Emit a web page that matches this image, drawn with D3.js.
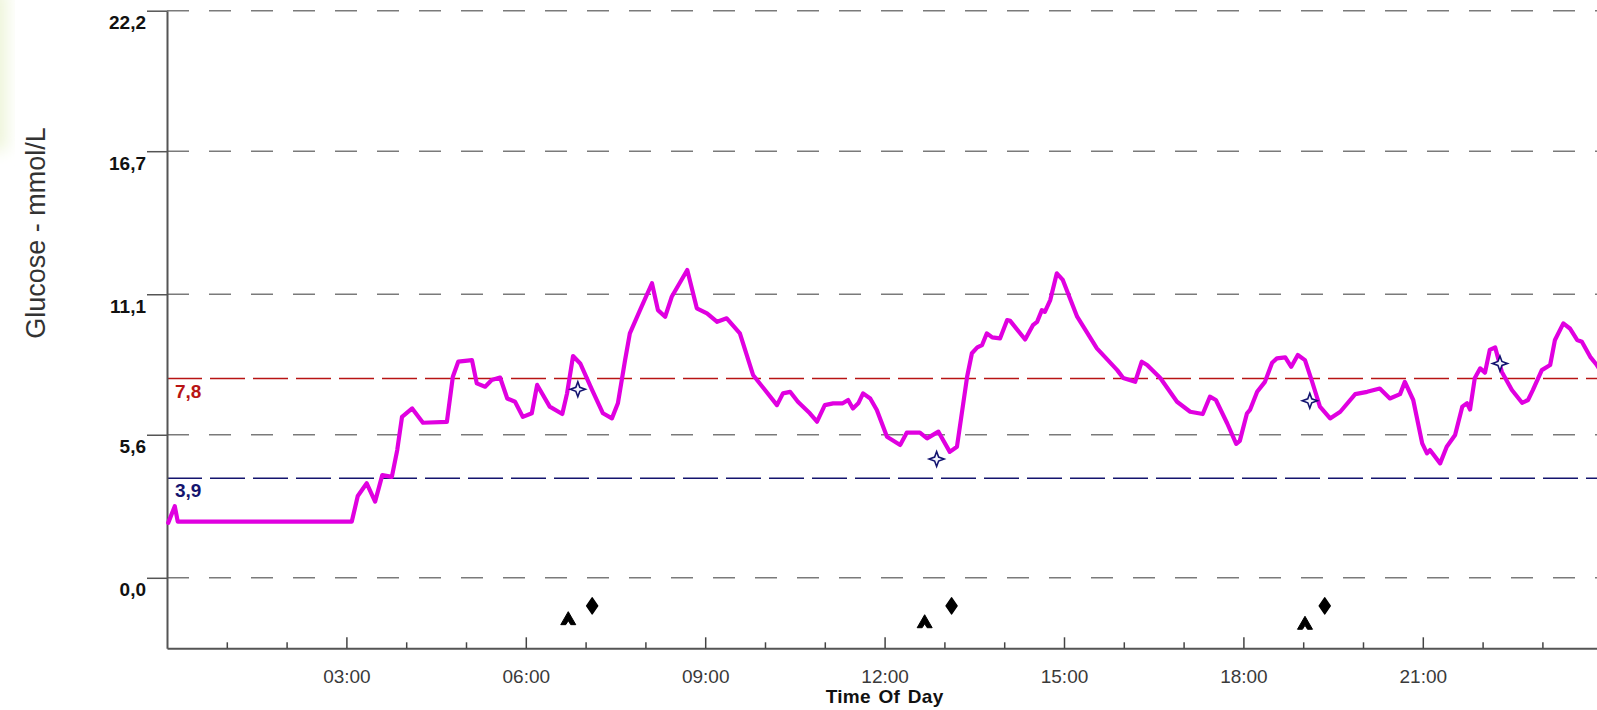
<!DOCTYPE html>
<html>
<head>
<meta charset="utf-8">
<script src="https://cdn.jsdelivr.net/npm/d3@7"></script>
<style>
  body { margin: 0; background: #fff; overflow: hidden; }
  svg { display: block; font-family: Arial, "Liberation Sans", sans-serif; }
</style>
</head>
<body>
<div id="chart"></div>
<script>
// glucose trace, hours since midnight -> mmol/L
const glucoseHours = [0.02, 0.13, 0.18, 3.09, 3.19, 3.34, 3.48, 3.60, 3.76, 3.85, 3.93, 4.10, 4.28, 4.68, 4.78, 4.87,
  5.10, 5.18, 5.32, 5.43, 5.57, 5.69, 5.82, 5.95, 6.10, 6.19, 6.40, 6.61, 6.69, 6.79, 6.91, 7.11, 7.29, 7.44,
  7.54, 7.66, 7.74, 7.91, 8.11, 8.21, 8.33, 8.44, 8.70, 8.86, 9.03, 9.20, 9.36, 9.58, 9.80, 10.00, 10.20, 10.30,
  10.42, 10.55, 10.75, 10.87, 11.00, 11.14, 11.30, 11.39, 11.47, 11.56, 11.64, 11.76, 11.87, 12.04, 12.26, 12.37,
  12.59, 12.71, 12.90, 13.09, 13.21, 13.38, 13.46, 13.55, 13.63, 13.71, 13.80, 13.93, 14.05, 14.10, 14.35, 14.48,
  14.55, 14.63, 14.68, 14.77, 14.88, 14.98, 15.22, 15.55, 15.89, 15.99, 16.19, 16.30, 16.39, 16.61, 16.89, 17.11,
  17.32, 17.44, 17.54, 17.73, 17.88, 17.94, 18.06, 18.11, 18.23, 18.36, 18.48, 18.56, 18.70, 18.80, 18.91, 19.03,
  19.15, 19.28, 19.45, 19.62, 19.87, 20.07, 20.28, 20.45, 20.62, 20.70, 20.84, 20.99, 21.07, 21.12, 21.29, 21.40,
  21.54, 21.66, 21.74, 21.79, 21.87, 21.96, 22.04, 22.12, 22.21, 22.32, 22.49, 22.66, 22.76, 22.84, 22.99, 23.13,
  23.21, 23.35, 23.46, 23.58, 23.66, 23.80, 23.91, 24.0];
const glucoseValues = [2.15, 2.8, 2.2, 2.2, 3.2, 3.7, 2.98, 4.02, 3.95, 5.0, 6.3, 6.63, 6.07, 6.1, 7.87, 8.46,
  8.52, 7.61, 7.48, 7.74, 7.84, 7.02, 6.89, 6.3, 6.44, 7.55, 6.7, 6.41, 7.22, 8.68, 8.39, 7.35, 6.44, 6.24,
  6.83, 8.52, 9.57, 10.48, 11.53, 10.48, 10.22, 11.0, 12.05, 10.55, 10.35, 10.02, 10.16, 9.57, 7.94, 7.35, 6.76, 7.22,
  7.28, 6.89, 6.44, 6.11, 6.76, 6.83, 6.83, 6.96, 6.63, 6.83, 7.22, 7.02, 6.57, 5.52, 5.2, 5.68,
  5.68, 5.46, 5.72, 4.93, 5.13, 7.87, 8.79, 9.02, 9.11, 9.57, 9.41, 9.37, 10.09, 10.06, 9.33, 9.89,
  10.02, 10.48, 10.41, 10.87, 11.92, 11.66, 10.22, 8.98, 8.13, 7.82, 7.67, 8.46, 8.33, 7.82, 6.89, 6.5,
  6.41, 7.09, 6.96, 6.04, 5.24, 5.36, 6.44, 6.57, 7.28, 7.67, 8.42, 8.59, 8.63, 8.26, 8.72, 8.52,
  7.67, 6.7, 6.24, 6.5, 7.19, 7.28, 7.41, 7.02, 7.19, 7.67, 6.96, 5.26, 4.87, 5.0, 4.48, 5.13,
  5.59, 6.7, 6.83, 6.59, 7.82, 8.2, 8.03, 8.92, 9.02, 8.07, 7.35, 6.85, 6.96, 7.35, 8.13, 8.33,
  9.31, 9.96, 9.76, 9.31, 9.24, 8.65, 8.33, 8.0];

// meter readings (star markers)
const meterHours = [6.87, 12.87, 19.11, 22.29];
const meterValues = [7.38, 4.65, 6.93, 8.39];

// event markers under the zero line
const caretHours = [6.71, 12.67, 19.03];
const caretValues = [-1.6, -1.72, -1.78];
const diamondHours = [7.11, 13.12, 19.36];
const diamondValues = [-1.1, -1.1, -1.1];

// axes
const yTicks = [0.0, 5.6, 11.1, 16.7, 22.2];
const xMajor = [3, 6, 9, 12, 15, 18, 21];
const xLabels = ["03:00", "06:00", "09:00", "12:00", "15:00", "18:00", "21:00"];
const highLimit = 7.8, lowLimit = 3.9;

const W = 1597, H = 710;
const m = {left: 167, top: 10.7, bottom: 648.3};

const svg = d3.select("#chart")
  .append("svg")
    .attr("width", W)
    .attr("height", H);

// faint green smear on the left edge of the scan
const defs = svg.append("defs");
const grad = defs.append("linearGradient")
    .attr("id", "edge").attr("x1", 0).attr("x2", 1).attr("y1", 0).attr("y2", 0);
grad.append("stop").attr("offset", "0%").attr("stop-color", "#dfecb8");
grad.append("stop").attr("offset", "100%").attr("stop-color", "#ffffff");
defs.append("filter").attr("id", "soft")
  .append("feGaussianBlur").attr("stdDeviation", 8);
svg.append("rect").attr("x", -10).attr("y", -10).attr("width", 22).attr("height", 160)
    .attr("fill", "url(#edge)").attr("filter", "url(#soft)");

const x = d3.scaleLinear().domain([0, 24]).range([m.left, m.left + 24 * 59.8]);
const y = d3.scaleLinear().domain([-2.76, 22.2]).range([m.bottom, m.top]);

const comma = d => d3.format(".1f")(d).replace(".", ",");

// dashed gridlines
svg.append("g")
  .selectAll("line")
  .data(yTicks)
  .join("line")
    .attr("x1", m.left)
    .attr("x2", x(24))
    .attr("y1", d => y(d))
    .attr("y2", d => y(d))
    .attr("stroke", "#7a7a7a")
    .attr("stroke-width", 1.5)
    .attr("stroke-dasharray", "22,20");

// target range lines
const limits = [
  {v: highLimit, color: "#b81414"},
  {v: lowLimit, color: "#14146e"}
];
svg.append("g")
  .selectAll("line")
  .data(limits)
  .join("line")
    .attr("x1", m.left)
    .attr("x2", x(24))
    .attr("y1", d => y(d.v))
    .attr("y2", d => y(d.v))
    .attr("stroke", d => d.color)
    .attr("stroke-width", 1.5)
    .attr("stroke-dasharray", "35,8");

svg.append("g")
  .selectAll("text")
  .data(limits)
  .join("text")
    .attr("x", m.left + 8)
    .attr("y", d => y(d.v) + 19)
    .attr("fill", d => d.color)
    .attr("font-size", 19)
    .attr("font-weight", "bold")
    .text(d => comma(d.v));

// Y axis
const Yaxis = svg.append("g")
    .attr("transform", `translate(${m.left},0)`)
    .call(d3.axisLeft(y).tickValues(yTicks).tickSize(20).tickSizeOuter(0).tickFormat(comma));
Yaxis.select(".domain").attr("stroke", "#555").attr("stroke-width", 2);
Yaxis.selectAll(".tick line").attr("stroke", "#555").attr("stroke-width", 1.5);
Yaxis.selectAll("text")
    .attr("x", -21)
    .attr("y", 18)
    .attr("dy", null)
    .attr("fill", "#111")
    .attr("font-size", 19)
    .attr("font-weight", "bold")
    .attr("font-family", "Arial, 'Liberation Sans', sans-serif");

// X axis: minor hour ticks, then labelled 3-hour ticks
const minor = d3.range(1, 24).filter(h => h % 3 !== 0);
const Xminor = svg.append("g")
    .attr("transform", `translate(0,${m.bottom})`)
    .call(d3.axisBottom(x).tickValues(minor).tickSize(-6).tickSizeOuter(0).tickFormat(""));
Xminor.select(".domain").attr("stroke", "#555").attr("stroke-width", 2);
Xminor.selectAll(".tick line").attr("stroke", "#444").attr("stroke-width", 1.5);

const Xaxis = svg.append("g")
    .attr("transform", `translate(0,${m.bottom})`)
    .call(d3.axisBottom(x).tickValues(xMajor).tickSize(-11).tickSizeOuter(0).tickPadding(21)
      .tickFormat((d, i) => xLabels[i]));
Xaxis.select(".domain").remove();
Xaxis.selectAll(".tick line").attr("stroke", "#444").attr("stroke-width", 1.5);
Xaxis.selectAll("text")
    .attr("fill", "#3a3a3a")
    .attr("font-size", 19)
    .attr("font-family", "Arial, 'Liberation Sans', sans-serif");

// axis titles
svg.append("text")
    .attr("x", (x(0) + x(24)) / 2)
    .attr("y", 703)
    .attr("text-anchor", "middle")
    .attr("font-size", 19)
    .attr("font-weight", "bold")
    .attr("letter-spacing", 0.3)
    .attr("word-spacing", 2)
    .attr("fill", "#111")
    .text("Time Of Day");

svg.append("text")
    .attr("transform", "translate(45,233) rotate(-90)")
    .attr("text-anchor", "middle")
    .attr("font-size", 27)
    .attr("fill", "#333")
    .text("Glucose - mmol/L");

// glucose trace
const trace = glucoseHours.map((h, i) => [h, glucoseValues[i]]);
svg.append("path")
    .datum(trace)
    .attr("fill", "none")
    .attr("stroke", "#e000e0")
    .attr("stroke-width", 4.2)
    .attr("stroke-linejoin", "round")
    .attr("stroke-linecap", "round")
    .attr("d", d3.line().x(d => x(d[0])).y(d => y(d[1])));

// meter readings: four-pointed stars
const star = "M0,-7.5 L2,-2 L7.5,0 L2,2 L0,7.5 L-2,2 L-7.5,0 L-2,-2 Z";
svg.append("g")
  .selectAll("path")
  .data(meterHours.map((h, i) => [h, meterValues[i]]))
  .join("path")
    .attr("transform", d => `translate(${x(d[0])},${y(d[1])})`)
    .attr("d", star)
    .attr("fill", "#f4f6ff")
    .attr("stroke", "#141470")
    .attr("stroke-width", 1.6);

// events
const caret = "M0,-7 L7.5,6 L2.5,6 L0,2 L-2.5,6 L-7.5,6 Z";
svg.append("g")
  .selectAll("path")
  .data(caretHours.map((h, i) => [h, caretValues[i]]))
  .join("path")
    .attr("transform", d => `translate(${x(d[0])},${y(d[1])})`)
    .attr("d", caret)
    .attr("fill", "#000")
    .attr("stroke", "#000")
    .attr("stroke-width", 1)
    .attr("stroke-linejoin", "round");

const diamond = "M0,-8 L5.5,0 L0,8 L-5.5,0 Z";
svg.append("g")
  .selectAll("path")
  .data(diamondHours.map((h, i) => [h, diamondValues[i]]))
  .join("path")
    .attr("transform", d => `translate(${x(d[0])},${y(d[1])})`)
    .attr("d", diamond)
    .attr("fill", "#000")
    .attr("stroke", "#000")
    .attr("stroke-width", 1.5)
    .attr("stroke-linejoin", "round");
</script>
</body>
</html>
